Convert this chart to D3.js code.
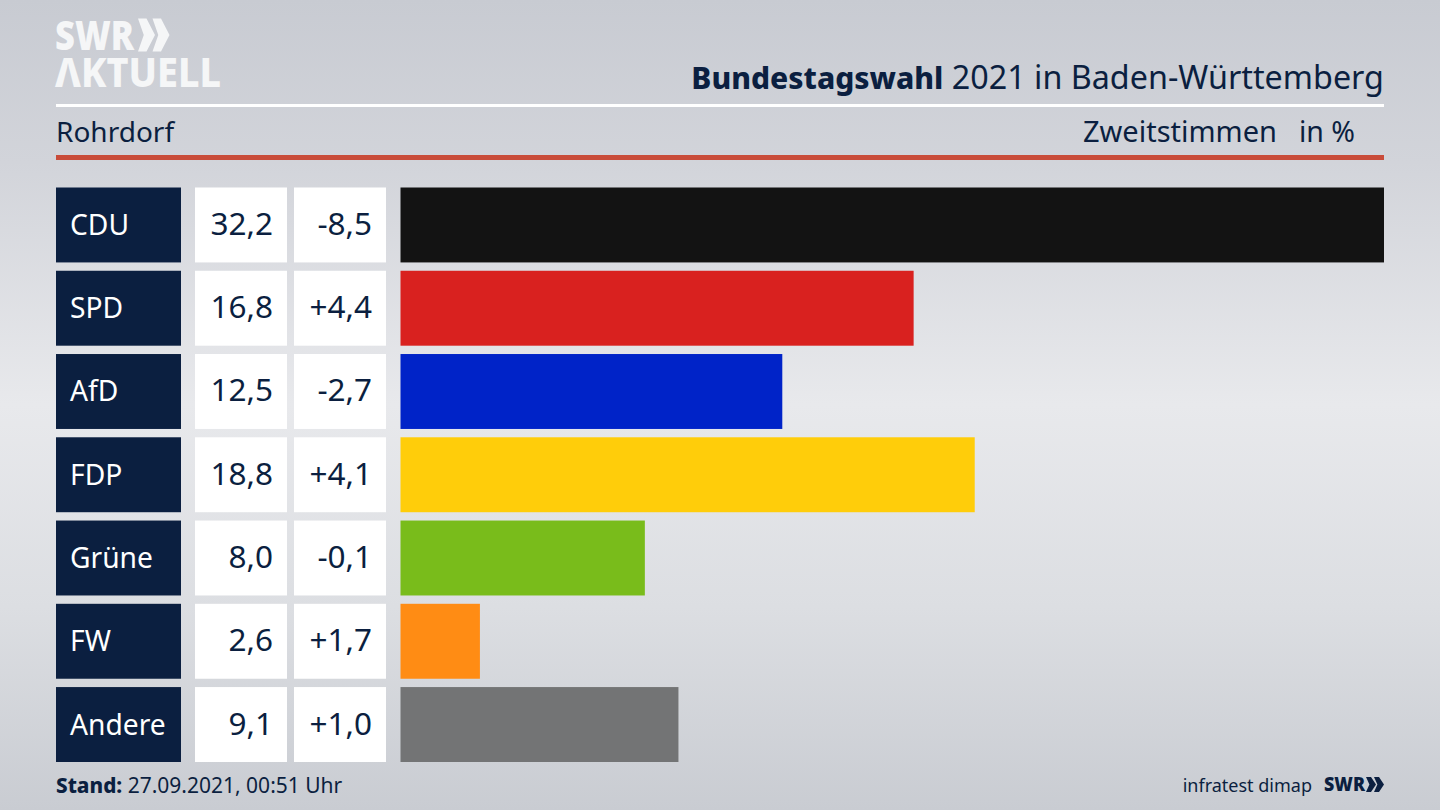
<!DOCTYPE html>
<html><head><meta charset="utf-8">
<script src="https://cdn.jsdelivr.net/npm/d3@7"></script>
<style>html,body{margin:0;padding:0;background:#d8dade;overflow:hidden}svg{display:block}</style>
</head><body><svg id="c" width="1440" height="810"></svg>
<script>
const parties = ["CDU","SPD","AfD","FDP","Grüne","FW","Andere"];
const shares = [32.2,16.8,12.5,18.8,8.0,2.6,9.1];
const changes = ["-8,5","+4,4","-2,7","+4,1","-0,1","+1,7","+1,0"];
const colors = ["#131313","#d9211f","#0023c8","#ffcd0a","#79bc1b","#ff8c14","#737475"];
const titleBold = "Bundestagswahl";
const titleRest = " 2021 in Baden-Württemberg";
const place = "Rohrdorf";
const navy = "#0b1f40";
const FONT = "'Noto Sans','Open Sans',sans-serif";
const fmt = v => v.toFixed(1).replace(".", ",");

const svg = d3.select("#c");
const defs = svg.append("defs");
const g = defs.append("linearGradient").attr("id","bg").attr("x1",0).attr("x2",0).attr("y1",0).attr("y2",1);
[[0,"#c8cbd2"],[0.2,"#d2d4da"],[0.5,"#e8e9ec"],[0.75,"#dcdee2"],[1,"#c9ccd2"]].forEach(s=>g.append("stop").attr("offset",s[0]).attr("stop-color",s[1]));
svg.append("rect").attr("width",1440).attr("height",810).attr("fill","url(#bg)");

const x = d3.scaleLinear().domain([0,32.2]).range([400.5,1384]);
const y = d3.scaleBand().domain(parties).range([187.5,762]).paddingInner(0.1).paddingOuter(0);
const bh = y.bandwidth();

const row = svg.selectAll("g.row").data(parties).join("g").attr("class","row");
row.append("rect").attr("x",56).attr("width",125).attr("y",d=>y(d)).attr("height",bh).attr("fill",navy);
row.append("rect").attr("x",195).attr("width",92).attr("y",d=>y(d)).attr("height",bh).attr("fill","#fff");
row.append("rect").attr("x",294).attr("width",92).attr("y",d=>y(d)).attr("height",bh).attr("fill","#fff");
row.append("rect").attr("x",x(0)).attr("y",d=>y(d)).attr("height",bh)
   .attr("width",(d,i)=>x(shares[i])-x(0)).attr("fill",(d,i)=>colors[i]);
const t = (sel,fs) => sel.attr("y",d=>y(d)+bh/2+10).attr("font-size",fs).attr("font-family",FONT);
row.append("text").call(t,28.2).attr("x",70).attr("fill","#fff").text(d=>d);
row.append("text").call(t,31.5).attr("x",273).attr("text-anchor","end").attr("fill",navy).text((d,i)=>fmt(shares[i]));
row.append("text").call(t,31.5).attr("x",372).attr("text-anchor","end").attr("fill",navy).text((d,i)=>changes[i]);

// header
svg.append("rect").attr("x",56).attr("y",104).attr("width",1328).attr("height",3).attr("fill","#fff");
svg.append("rect").attr("x",56).attr("y",155).attr("width",1328).attr("height",5).attr("fill","#c94c3a");
const title = svg.append("text").attr("x",1384).attr("y",89).attr("text-anchor","end").attr("font-family",FONT).attr("fill",navy);
title.append("tspan").attr("font-weight",800).attr("font-size",30).text(titleBold);
title.append("tspan").attr("font-size",32.3).text(titleRest);
const sub = (x0,txt,anchor,fs) => svg.append("text").attr("x",x0).attr("y",142).attr("text-anchor",anchor).attr("font-size",fs).attr("font-family",FONT).attr("fill",navy).text(txt);
sub(56,place,"start",28);
sub(1277,"Zweitstimmen","end",29);
sub(1355,"in %","end",28.5);

// logo
const chev = (gx,px,py,w,h,step,col)=>{ [0,1].forEach(k=>{
  gx.append("path").attr("transform",`translate(${px+k*step},${py})`)
    .attr("d",`M0,0 L${0.5*w},0 L${w},${h/2} L${0.5*w},${h} L0,${h} L${0.34*w},${h/2} Z`).attr("fill",col);
});};
const logo = svg.append("g");
logo.append("text").attr("x",55).attr("y",50).attr("font-size",40).attr("font-weight",900).attr("font-family",FONT).attr("fill","#f5f6f7").attr("textLength",79).attr("lengthAdjust","spacingAndGlyphs").text("SWR");
chev(logo,138,18.5,17,33,14.5,"#f5f6f7");
logo.append("text").attr("x",55).attr("y",87).attr("font-size",41).attr("font-weight",800).attr("font-family",FONT).attr("fill","#f5f6f7").attr("textLength",166).attr("lengthAdjust","spacingAndGlyphs").text("ΛKTUELL");

// footer
const foot = svg.append("text").attr("x",56).attr("y",792.5).attr("font-family",FONT).attr("fill",navy);
foot.append("tspan").attr("font-weight",800).attr("font-size",20.7).text("Stand:");
foot.append("tspan").attr("font-size",21).text(" 27.09.2021, 00:51 Uhr");
svg.append("text").attr("x",1312).attr("y",791.5).attr("text-anchor","end").attr("font-size",18).attr("font-family",FONT).attr("fill",navy).text("infratest dimap");
svg.append("text").attr("x",1324).attr("y",791).attr("font-size",20).attr("font-weight",900).attr("font-family",FONT).attr("fill",navy).attr("textLength",41).attr("lengthAdjust","spacingAndGlyphs").text("SWR");
chev(svg,1366,777,10,15,8,navy);
</script></body></html>
